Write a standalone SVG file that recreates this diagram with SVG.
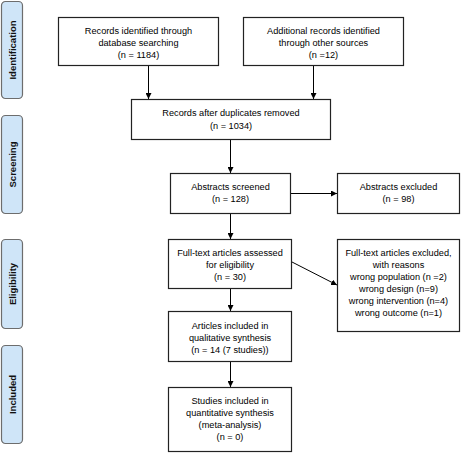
<svg xmlns="http://www.w3.org/2000/svg" width="461" height="453" viewBox="0 0 461 453">
<defs>
<marker id="ah" viewBox="0 0 10 10" refX="10" refY="5" markerWidth="6" markerHeight="6" orient="auto" markerUnits="userSpaceOnUse">
<path d="M0,0 L10,5 L0,10 z" fill="#000"/>
</marker>
</defs>
<style>
.box{fill:#fff;stroke:#222;stroke-width:1.2}
.side{fill:#cfe5f8;stroke:#6d6d6d;stroke-width:1.2}
.t{font-family:"Liberation Sans",Arial,sans-serif;font-size:9.2px;fill:#000;text-anchor:middle}
.s{font-family:"Liberation Sans",Arial,sans-serif;font-size:9.5px;font-weight:bold;fill:#111;text-anchor:middle}
.c{stroke:#000;stroke-width:1;fill:none;marker-end:url(#ah)}
</style>
<rect width="461" height="453" fill="#fff"/>
<g id="side-identification"><rect class="side" x="1.5" y="1.5" width="21" height="97" rx="4"/><text class="s" transform="translate(15.5,50) rotate(-90)">Identification</text></g>
<g id="side-screening"><rect class="side" x="1.5" y="115.5" width="21" height="98" rx="4"/><text class="s" transform="translate(15.5,164.5) rotate(-90)">Screening</text></g>
<g id="side-eligibility"><rect class="side" x="1.5" y="239.5" width="21" height="89" rx="4"/><text class="s" transform="translate(15.5,284) rotate(-90)">Eligibility</text></g>
<g id="side-included"><rect class="side" x="1.5" y="345.5" width="21" height="98" rx="4"/><text class="s" transform="translate(15.5,394.5) rotate(-90)">Included</text></g>

<g id="connectors">
<line class="c" x1="148.5" y1="66" x2="148.5" y2="99"/>
<line class="c" x1="313.5" y1="66" x2="313.5" y2="99"/>
<line class="c" x1="230.5" y1="140" x2="230.5" y2="173"/>
<line class="c" x1="290" y1="193.5" x2="337" y2="193.5"/>
<line class="c" x1="230.5" y1="214" x2="230.5" y2="239"/>
<line class="c" x1="292" y1="262" x2="337" y2="285"/>
<line class="c" x1="230.5" y1="289" x2="230.5" y2="311"/>
<line class="c" x1="230.5" y1="362" x2="230.5" y2="387"/>
</g>

<g id="n1"><rect class="box" x="58.5" y="17.5" width="160" height="48"/>
<text class="t" x="138.5" y="34">Records identified through</text>
<text class="t" x="138.5" y="46">database searching</text>
<text class="t" x="138.5" y="58">(n = 1184)</text></g>
<g id="n2"><rect class="box" x="243.5" y="17.5" width="160" height="48"/>
<text class="t" x="323.5" y="34">Additional records identified</text>
<text class="t" x="323.5" y="46">through other sources</text>
<text class="t" x="323.5" y="58">(n =12)</text></g>
<g id="n3"><rect class="box" x="131.5" y="99.5" width="199" height="40"/>
<text class="t" x="231" y="116">Records after duplicates removed</text>
<text class="t" x="231" y="128.5">(n = 1034)</text></g>
<g id="n4"><rect class="box" x="170.5" y="173.5" width="120" height="40"/>
<text class="t" x="230.5" y="189.5">Abstracts screened</text>
<text class="t" x="230.5" y="202">(n = 128)</text></g>
<g id="n5"><rect class="box" x="337.5" y="173.5" width="122" height="40"/>
<text class="t" x="398.5" y="189.5">Abstracts excluded</text>
<text class="t" x="398.5" y="202">(n = 98)</text></g>
<g id="n6"><rect class="box" x="168.5" y="239.5" width="123" height="49"/>
<text class="t" x="230" y="255.5">Full-text articles assessed</text>
<text class="t" x="230" y="268">for eligibility</text>
<text class="t" x="230" y="280">(n =  30)</text></g>
<g id="n7"><rect class="box" x="337.5" y="239.5" width="122" height="92"/>
<text class="t" x="398.5" y="255.5">Full-text articles excluded,</text>
<text class="t" x="398.5" y="268">with reasons</text>
<text class="t" x="398.5" y="280">wrong population (n =2)</text>
<text class="t" x="398.5" y="292">wrong design (n=9)</text>
<text class="t" x="398.5" y="304">wrong intervention (n=4)</text>
<text class="t" x="398.5" y="316">wrong outcome (n=1)</text></g>
<g id="n8"><rect class="box" x="168.5" y="311.5" width="123" height="50"/>
<text class="t" x="230" y="329">Articles included in</text>
<text class="t" x="230" y="341">qualitative synthesis</text>
<text class="t" x="230" y="352.5">(n = 14 (7 studies))</text></g>
<g id="n9"><rect class="box" x="168.5" y="387.5" width="123" height="64"/>
<text class="t" x="230" y="404">Studies included in</text>
<text class="t" x="230" y="415.5">quantitative synthesis</text>
<text class="t" x="230" y="427.5">(meta-analysis)</text>
<text class="t" x="230" y="440">(n = 0)</text></g>
</svg>
